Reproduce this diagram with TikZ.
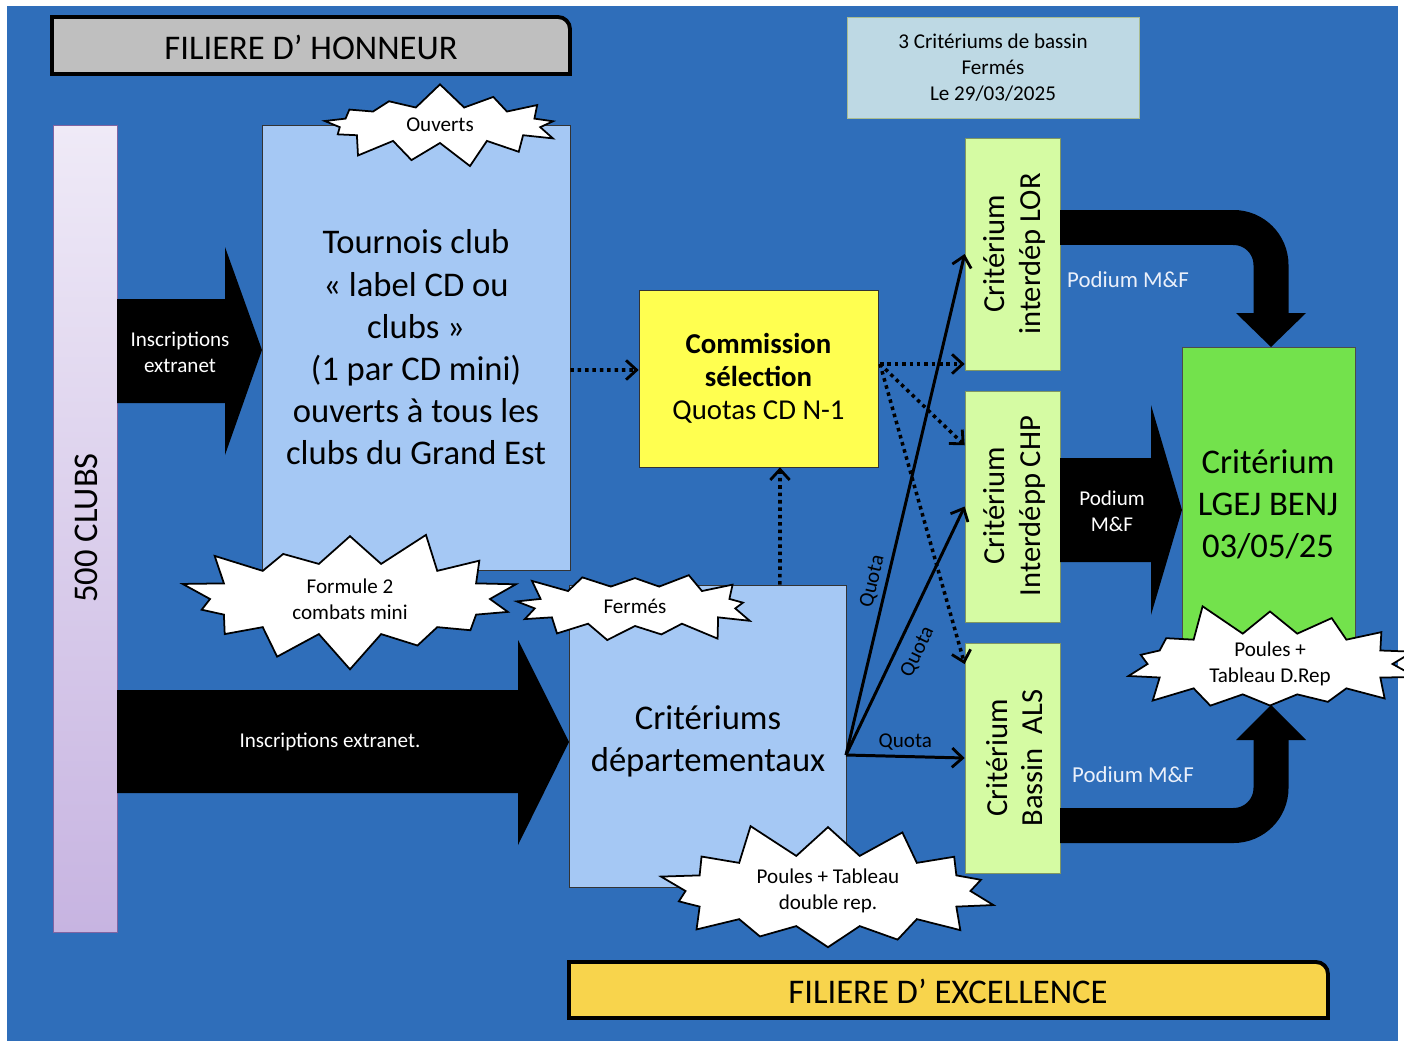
\documentclass[tikz,border=0pt]{standalone}
\usepackage{fontspec}
\setmainfont{Carlito}
\usetikzlibrary{arrows.meta,shapes.symbols}

\definecolor{fond}{RGB}{47,110,186}
\definecolor{bleuclair}{RGB}{165,200,244}
\definecolor{gris}{RGB}{191,191,191}
\definecolor{jaune}{RGB}{255,255,80}
\definecolor{vertclair}{RGB}{213,251,163}
\definecolor{vertfonce}{RGB}{115,226,76}
\definecolor{orjaune}{RGB}{248,212,76}
\definecolor{bassin}{RGB}{190,217,228}
\definecolor{lavhaut}{RGB}{239,234,247}
\definecolor{lavbas}{RGB}{199,180,225}
\definecolor{violet}{RGB}{128,100,162}
\definecolor{blanccasse}{RGB}{235,240,250}

\newcommand\grand{\fontsize{19.7}{24}\selectfont}
\newcommand\moyen{\fontsize{16.4}{18.8}\selectfont}
\newcommand\critfont{\fontsize{17.4}{20}\selectfont}
\newcommand\podfont{\fontsize{13}{15.8}\selectfont}
\newcommand\petit{\fontsize{12}{14.8}\selectfont}

\tikzset{
  boite/.style={draw=black!80, fill=bleuclair, align=center, inner sep=0pt},
  critbox/.style={draw=vertclair!60!black, fill=vertclair, inner sep=0pt, minimum width=1.9cm},
  eclat/.style={starburst, draw=black, fill=white, line width=1pt, align=center, inner sep=0pt, font=\petit},
  pointille/.style={line width=2pt, dash pattern=on 2pt off 2.2pt, -{Straight Barb[length=6pt,width=11pt,line width=1.6pt]}},
  quota/.style={line width=1.7pt, -{Straight Barb[length=6pt,width=11pt,line width=1.6pt]}},
}

\begin{document}
\begin{tikzpicture}[x=0.02cm,y=-0.02cm]
\useasboundingbox (0,0) rectangle (1404,1041);
\fill[white] (0,0) rectangle (1404,1041);
\fill[fond] (7,6) rectangle (1398,1041);

\draw[fill=gris, line width=2.2pt] (52,74) -- (52,17) -- (558,17) arc[start angle=90, end angle=0, radius=0.24cm] -- (570,74) -- cycle;
\node[font=\grand] (honneur) at (311,47) {FILIERE D’ HONNEUR};
\draw[fill=orjaune, line width=2.2pt] (569,1018) -- (569,962) -- (1316,962) arc[start angle=90, end angle=0, radius=0.24cm] -- (1328,1018) -- cycle;
\node[font=\grand] (excellence) at (948,991) {FILIERE D’ EXCELLENCE};

\node[draw=violet, top color=lavhaut, bottom color=lavbas, minimum width=1.28cm, minimum height=16.14cm] (clubs) at (85,528.5) {};
\node[rotate=90, font=\grand] (clubsTxt) at (86,528) {500 CLUBS};

\node[boite, font=\grand, minimum width=6.16cm, minimum height=8.9cm] (tournoi) at (416,347.5) {Tournois club\\« label CD ou\\clubs »\\(1 par CD mini)\\ouverts à tous les\\clubs du Grand Est};
\node[boite, minimum width=5.54cm, minimum height=6.04cm] (critdep) at (707.5,736) {};
\node[font=\grand, align=center] (critdepTxt) at (708,741) {Critériums\\départementaux};
\node[draw=black!80, fill=jaune, font=\moyen, align=center, minimum width=4.78cm, minimum height=3.54cm] (com) at (758.5,378.5) {\textbf{Commission}\\\textbf{sélection}\\Quotas CD N-1};
\node[draw=vertclair!50!gray, fill=bassin, font=\petit, align=center, minimum width=5.84cm, minimum height=2.02cm] (info) at (993,67.5) {3 Critériums de bassin\\Fermés\\Le 29/03/2025};

\node[critbox, minimum height=4.64cm] (lor) at (1012.5,254) {};
\node[rotate=90, font=\critfont, align=center] (lorTxt) at (1014.5,254) {Critérium\\interdép LOR};
\node[critbox, minimum height=4.62cm] (chp) at (1012.5,506.5) {};
\node[rotate=90, font=\critfont, align=center] (chpTxt) at (1014.5,506) {Critérium\\Interdépp CHP};
\node[critbox, minimum height=4.6cm] (als) at (1012.5,758) {};
\node[rotate=90, font=\critfont, align=center] (alsTxt) at (1014.5,758) {Critérium\\Bassin\ \ ALS};

\node[draw=black!70, fill=vertfonce, minimum width=3.46cm, minimum height=6.06cm] (lgej) at (1268.5,498.5) {};
\node[font=\grand, align=center] (lgejTxt) at (1268,504) {Critérium\\LGEJ BENJ\\03/05/25};

\fill (117,299) -- (225,299) -- (225,247) -- (262,350) -- (225,455) -- (225,403) -- (117,403) -- cycle;
\node[font=\petit, text=white, align=center] (inscrHaut) at (180,352) {Inscriptions\\extranet};
\fill (117,690) -- (518,690) -- (518,640) -- (569,742) -- (518,845) -- (518,793) -- (117,793) -- cycle;
\node[font=\petit, text=white] (inscrBas) at (330,742) {Inscriptions extranet.};
\fill (1060,458) -- (1151,458) -- (1151,405) -- (1182,510) -- (1151,615) -- (1151,562) -- (1060,562) -- cycle;
\node[font=\petit, text=white, align=center] (podiumMil) at (1112,511) {Podium\\M\&F};

\draw[line width=0.7cm, rounded corners=0.75cm] (1060,227.5) -- (1271,227.5) -- (1271,314);
\fill (1236,313) -- (1306,313) -- (1271,347) -- cycle;
\draw[line width=0.7cm, rounded corners=0.75cm] (1060,825.5) -- (1271,825.5) -- (1271,739);
\fill (1236,740) -- (1306,740) -- (1271,705) -- cycle;
\node[font=\podfont, text=blanccasse] (podiumHaut) at (1128,280) {Podium M\&F};
\node[font=\podfont, text=blanccasse] (podiumBas) at (1133,775) {Podium M\&F};

\draw[pointille] ([yshift=-0.45cm]tournoi.east) -- ([yshift=0.17cm]com.west);
\draw[pointille] ([xshift=1.45cm]critdep.north) -- ([xshift=0.43cm]com.south);
\coordinate (cdep) at (880,364);
\draw[pointille] (cdep) -- (lor.west |- cdep);
\draw[pointille] (cdep) -- (chp.128);
\draw[pointille] (cdep) -- (als.117);

\coordinate (qdep) at (846,755);
\draw[quota] (qdep) -- (lor.west) node[pos=0.34, sloped, above, font=\petit, inner sep=2.5pt] {Quota};
\draw[quota] (qdep) -- (chp.west) node[pos=0.45, sloped, below, font=\petit, inner sep=6pt] {Quota};
\draw[quota] (qdep) -- (als.west) node[midway, above, font=\petit, inner sep=2.5pt] {Quota};

\node[eclat, minimum width=5.04cm, minimum height=1.72cm, starburst points=13, starburst point height=0.5cm, random starburst=7] (ouverts) at (440,125) {Ouverts};
\node[eclat, minimum width=7.1cm, minimum height=2.94cm, starburst points=14, starburst point height=0.75cm, random starburst=21] (formule) at (350,599) {Formule 2\\combats mini};
\node[eclat, minimum width=5.04cm, minimum height=1.8cm, starburst points=13, starburst point height=0.5cm, random starburst=3] (fermes) at (635,606) {Fermés};
\node[eclat, minimum width=7.2cm, minimum height=2.94cm, starburst points=14, starburst point height=0.75cm, random starburst=11] (poulesBas) at (828,891) {Poules + Tableau\\double rep.};
\node[eclat, minimum width=6.3cm, minimum height=2.6cm, starburst points=14, starburst point height=0.7cm, random starburst=5] (poulesDroite) at (1270,664) {Poules +\\Tableau D.Rep};
\end{tikzpicture}
\end{document}
